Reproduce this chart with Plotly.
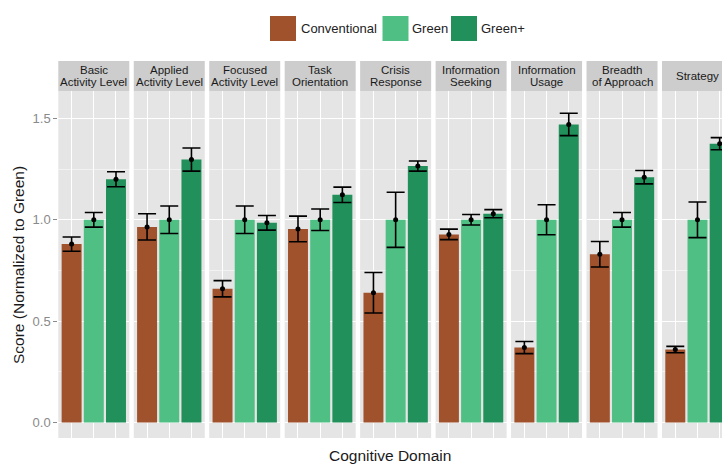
import plotly.graph_objects as go

# ---- data -------------------------------------------------------------
groups = ["Conventional", "Green", "Green+"]
domains = [
    "Basic\nActivity Level",
    "Applied\nActivity Level",
    "Focused\nActivity Level",
    "Task\nOrientation",
    "Crisis\nResponse",
    "Information\nSeeking",
    "Information\nUsage",
    "Breadth\nof Approach",
    "Strategy",
]
conventional = [0.88, 0.965, 0.66, 0.955, 0.64, 0.928, 0.37, 0.83, 0.36]
conventional_err = [0.035, 0.065, 0.04, 0.063, 0.10, 0.026, 0.03, 0.063, 0.016]
green = [1.0, 1.0, 1.0, 1.0, 1.0, 1.0, 1.0, 1.0, 1.0]
green_err = [0.036, 0.068, 0.068, 0.053, 0.136, 0.026, 0.074, 0.036, 0.088]
green_plus = [1.20, 1.297, 0.985, 1.123, 1.265, 1.03, 1.47, 1.21, 1.375]
green_plus_err = [0.037, 0.057, 0.036, 0.038, 0.025, 0.02, 0.055, 0.033, 0.03]
y_ticks = [0.0, 0.5, 1.0, 1.5]
y_tick_labels = ["0.0", "0.5", "1.0", "1.5"]
y_minor = [0.25, 0.75, 1.25]

series = [
    (conventional, conventional_err, "#A0522D"),
    (green, green_err, "#4FBF84"),
    (green_plus, green_plus_err, "#21905A"),
]

# ---- geometry (pixels) -------------------------------------------------
W, H = 722, 466
PANEL_LEFT = 58.3
PANEL_PITCH = 75.46
PANEL_W = 71.0
PANEL_TOP = 91.0
PANEL_BOTTOM = 438.0
STRIP_TOP = 61.0
XPAD = 0.6                      # discrete-axis padding on each side
Y_RANGE = [-0.076, 1.635]
px_per_unit = PANEL_W / (len(groups) - 1 + 2 * XPAD)

FONT = "Liberation Sans, Arial, Helvetica, sans-serif"
PANEL_BG = "#E5E5E5"
STRIP_BG = "#CDCDCD"
TEXT_DARK = "#1A1A1A"


def px_x(x):
    return x / W


def px_y(y):
    return 1 - y / H


fig = go.Figure()
layout = {}
shapes = []
annotations = []

for i, name in enumerate(domains):
    ax = "" if i == 0 else str(i + 1)
    left = PANEL_LEFT + i * PANEL_PITCH
    right = min(left + PANEL_W, W)
    x_hi = -XPAD + (right - left) / px_per_unit

    layout["xaxis" + ax] = dict(
        domain=[px_x(left), px_x(right)], anchor="y" + ax,
        type="category", categoryorder="array", categoryarray=groups,
        range=[-XPAD, x_hi], showticklabels=False, ticks="",
        showgrid=True, gridcolor="white", gridwidth=1.4,
        zeroline=False, showline=False, fixedrange=True,
    )
    layout["yaxis" + ax] = dict(
        domain=[px_y(PANEL_BOTTOM), px_y(PANEL_TOP)], anchor="x" + ax,
        range=Y_RANGE, tickmode="array", tickvals=y_ticks, ticktext=y_tick_labels,
        showticklabels=(i == 0), ticks="outside" if i == 0 else "",
        ticklen=4, tickwidth=1, tickcolor="#8A8A8A",
        tickfont=dict(family=FONT, size=13, color="#8A8A8A"),
        showgrid=True, gridcolor="white", gridwidth=1.4,
        minor=dict(tickmode="array", tickvals=y_minor, showgrid=True,
                   gridcolor="#F2F2F2", gridwidth=0.7),
        zeroline=False, showline=False, fixedrange=True,
    )

    for g, (vals, errs, color) in zip(groups, series):
        fig.add_trace(go.Bar(
            x=[g], y=[vals[i]], width=[0.9],
            marker=dict(color=color, line=dict(width=0)),
            error_y=dict(type="data", array=[errs[i]], color="black",
                         thickness=1.6, width=9),
            xaxis="x" + ax, yaxis="y" + ax, showlegend=False,
            hoverinfo="skip",
        ))
    fig.add_trace(go.Scatter(
        x=groups, y=[s[0][i] for s in series], mode="markers",
        marker=dict(color="black", size=5),
        xaxis="x" + ax, yaxis="y" + ax, showlegend=False, hoverinfo="skip",
    ))

    # facet strip
    shapes.append(dict(
        type="rect", xref="paper", yref="paper", layer="below",
        x0=px_x(left), x1=px_x(right), y0=px_y(PANEL_TOP), y1=px_y(STRIP_TOP),
        fillcolor=STRIP_BG, line=dict(width=0),
    ))
    lines = name.split("\n")
    cx = left + PANEL_W / 2
    mid = (STRIP_TOP + PANEL_TOP) / 2
    offsets = [0.0] if len(lines) == 1 else [-6.0, 6.0]
    for line, off in zip(lines, offsets):
        annotations.append(dict(
            text=line, xref="paper", yref="paper",
            x=px_x(cx), y=px_y(mid + off), xanchor="center", yanchor="middle",
            showarrow=False, font=dict(family=FONT, size=11.5, color=TEXT_DARK),
        ))

# legend drawn as keys + labels across the top
legend_items = [(groups[0], 270, 299), (groups[1], 382.5, 410), (groups[2], 451, 479)]
for (label, key_x, text_x), (_, _, color) in zip(legend_items, series):
    shapes.append(dict(
        type="rect", xref="paper", yref="paper",
        x0=px_x(key_x), x1=px_x(key_x + 26), y0=px_y(41), y1=px_y(16),
        fillcolor=color, line=dict(width=0),
    ))
    annotations.append(dict(
        text=label, xref="paper", yref="paper",
        x=px_x(text_x), y=px_y(28.5), xanchor="left", yanchor="middle",
        showarrow=False, font=dict(family=FONT, size=13, color="#222222"),
    ))

# axis titles
annotations.append(dict(
    text="Cognitive Domain", xref="paper", yref="paper",
    x=px_x(390), y=px_y(455), xanchor="center", yanchor="middle",
    showarrow=False, font=dict(family=FONT, size=15.5, color=TEXT_DARK),
))
annotations.append(dict(
    text="Score (Normalized to Green)", xref="paper", yref="paper",
    x=px_x(18), y=px_y(265), xanchor="center", yanchor="middle",
    textangle=-90, showarrow=False,
    font=dict(family=FONT, size=15.5, color=TEXT_DARK),
))

fig.update_layout(
    **layout,
    width=W, height=H,
    margin=dict(l=0, r=0, t=0, b=0, pad=0),
    paper_bgcolor="white", plot_bgcolor=PANEL_BG,
    barmode="overlay", showlegend=False,
    shapes=shapes, annotations=annotations,
    font=dict(family=FONT),
)

fig.write_html("out.html")
